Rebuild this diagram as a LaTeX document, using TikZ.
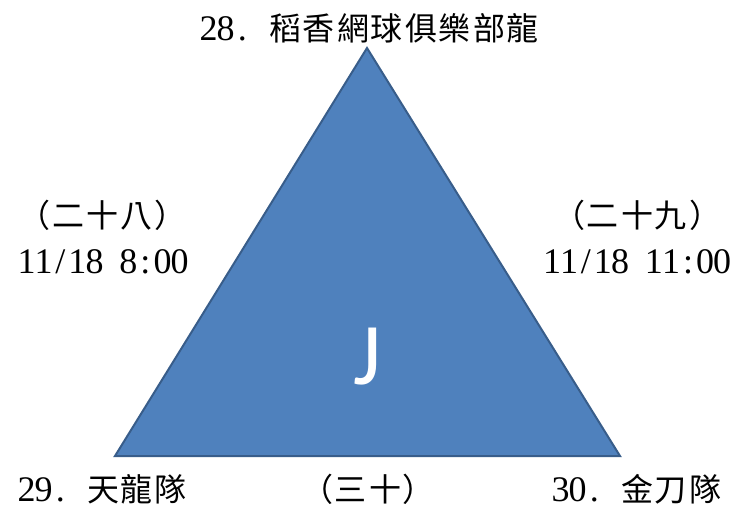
\documentclass[tikz,border=0pt]{standalone}
\usepackage{fontspec}
\setmainfont{Liberation Serif}
\newfontfamily\cjk{Noto Sans CJK TC}
\newfontfamily\jfont{Carlito}
\definecolor{triFill}{HTML}{4F81BD}
\definecolor{triLine}{HTML}{385D8A}
\newlength\cellw
\def\celliter#1{\ifx#1\relax\else\makebox[\cellw]{#1}\expandafter\celliter\fi}
\newcommand\hw[1]{{\setlength\cellw{17pt}\fontsize{36}{40}\selectfont\celliter#1\relax}}
\newcommand\fw[1]{{\setlength\cellw{34pt}\fontsize{32}{36}\selectfont\cjk\celliter#1\relax}}
\tikzset{
  lbl/.style={inner sep=0pt, anchor=base},
}
\begin{document}
\begin{tikzpicture}[x=1pt,y=-1pt]
\useasboundingbox (0,0) rectangle (736,512);
\coordinate (A) at (367,48);
\coordinate (B) at (115,456);
\coordinate (C) at (620,456);
\draw[triLine, line width=2pt, fill=triFill, line join=miter] (A) -- (B) -- (C) -- cycle;
\node[inner sep=0pt, text=white, font=\fontsize{88}{90}\selectfont\jfont] (J) at (368,357) {J};
\node[lbl] (top) at (370,40) {\hw{28.~}\fw{稻香網球俱樂部龍}};
\node[lbl] (l1) at (103,227) {\fw{（二十八）}};
\node[lbl] (l2) at (103,273) {\hw{11/18~8:00}};
\node[lbl] (r1) at (637,227) {\fw{（二十九）}};
\node[lbl] (r2) at (637,273) {\hw{11/18~11:00}};
\node[lbl] (bl) at (103,501) {\hw{29.~}\fw{天龍隊}};
\node[lbl] (bm) at (368,501) {\fw{（三十）}};
\node[lbl] (br) at (637,501) {\hw{30.~}\fw{金刀隊}};
\end{tikzpicture}
\end{document}
